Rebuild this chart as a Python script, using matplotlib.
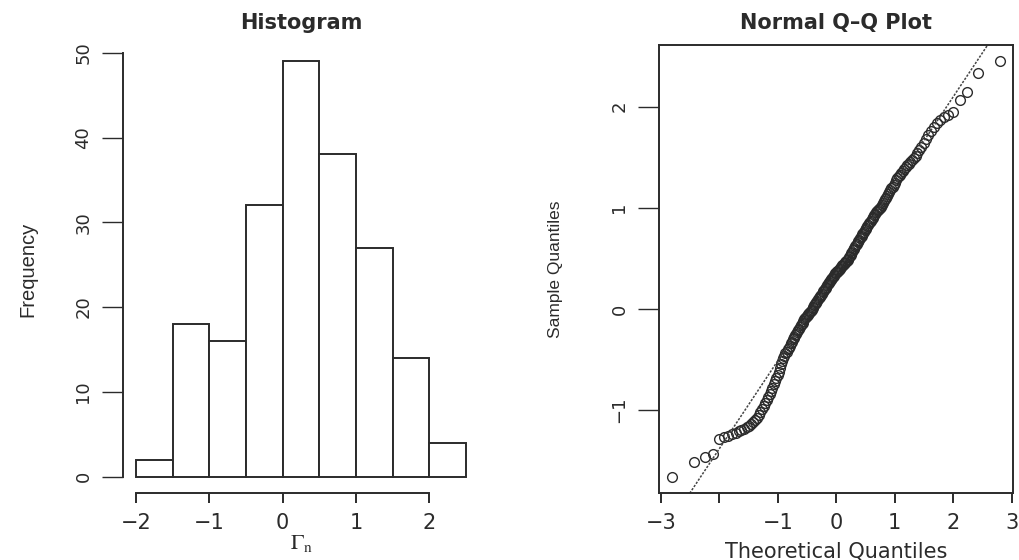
import numpy as np
import matplotlib
matplotlib.use("Agg")
import matplotlib.pyplot as plt
from statistics import NormalDist

# ---- data -------------------------------------------------------------
hist_breaks = [-2.0, -1.5, -1.0, -0.5, 0.0, 0.5, 1.0, 1.5, 2.0, 2.5]
hist_yticks = [0, 10, 20, 30, 40, 50]
hist_xticks = [-2, -1, 0, 1, 2]
qq_xticks = [-3, -2, -1, 0, 1, 2, 3]
qq_xticklabels = ["\u22123", "", "\u22121", "0", "1", "2", "3"]
qq_yticks = [-1, 0, 1, 2]

gamma_n = [
    -1.66, -1.51,
    -1.47, -1.44, -1.29, -1.27, -1.26, -1.24, -1.23, -1.21, -1.20, -1.19,
    -1.17, -1.16, -1.14, -1.12, -1.10, -1.08, -1.05, -1.02,
    -0.99, -0.96, -0.93, -0.90, -0.87, -0.84, -0.81, -0.78, -0.74, -0.71,
    -0.68, -0.65, -0.62, -0.58, -0.55, -0.52,
    -0.49, -0.47, -0.44, -0.43, -0.40, -0.39, -0.37, -0.34, -0.33, -0.30,
    -0.29, -0.28, -0.26, -0.245, -0.225, -0.21, -0.20, -0.18, -0.16, -0.15,
    -0.14, -0.12, -0.10, -0.09, -0.08, -0.07, -0.06, -0.05, -0.04, -0.03,
    -0.02, -0.01,
    0.01, 0.02, 0.035, 0.05, 0.06, 0.07, 0.08, 0.095, 0.11, 0.12,
    0.13, 0.14, 0.15, 0.165, 0.18, 0.19, 0.20, 0.21, 0.22, 0.235,
    0.25, 0.26, 0.27, 0.28, 0.29, 0.30, 0.31, 0.32, 0.33, 0.34,
    0.35, 0.355, 0.36, 0.37, 0.375, 0.38, 0.39, 0.40, 0.41, 0.42,
    0.43, 0.435, 0.44, 0.45, 0.46, 0.47, 0.475, 0.485, 0.495,
    0.51, 0.52, 0.535, 0.55, 0.565, 0.58, 0.59, 0.605, 0.62, 0.63,
    0.645, 0.66, 0.67, 0.685, 0.70, 0.71, 0.725, 0.74, 0.75, 0.765,
    0.78, 0.79, 0.805, 0.82, 0.83, 0.845, 0.86, 0.87, 0.885, 0.90,
    0.91, 0.925, 0.94, 0.956, 0.965, 0.975, 0.985, 0.995,
    1.01, 1.03, 1.05, 1.07, 1.09, 1.10, 1.12, 1.14, 1.16, 1.18,
    1.20, 1.21, 1.23, 1.25, 1.27, 1.29, 1.31, 1.32, 1.34, 1.36,
    1.38, 1.40, 1.42, 1.43, 1.45, 1.47, 1.49,
    1.51, 1.54, 1.57, 1.60, 1.64, 1.68, 1.72, 1.76, 1.80, 1.84,
    1.87, 1.90, 1.92, 1.95,
    2.07, 2.15, 2.33, 2.45,
]

# ---- style ------------------------------------------------------------
plt.rcParams["font.family"] = ["DejaVu Sans"]
plt.rcParams["mathtext.fontset"] = "stix"
INK = "#2b2b2b"
LW = 1.4

fig = plt.figure(figsize=(10.2, 5.6), dpi=100)
fig.patch.set_facecolor("white")

bottom = 1 - 493.3 / 560
height = (493.3 - 44.6) / 560
ax1 = fig.add_axes([123 / 1020, bottom, 356 / 1020, height])
ax2 = fig.add_axes([659 / 1020, bottom, 354.5 / 1020, height])


def r_pad(lo, hi):
    d = (hi - lo) * 0.04
    return lo - d, hi + d


# ---- histogram --------------------------------------------------------
counts, _, _ = ax1.hist(gamma_n, bins=hist_breaks, facecolor="white",
                        edgecolor=INK, linewidth=LW)
ax1.set_xlim(*r_pad(hist_breaks[0], hist_breaks[-1]))
ax1.set_ylim(*r_pad(0, max(counts)))
for s in ("top", "right"):
    ax1.spines[s].set_visible(False)
ax1.spines["left"].set_bounds(hist_yticks[0], hist_yticks[-1])
ax1.spines["bottom"].set_bounds(hist_xticks[0], hist_xticks[-1])
ax1.set_xticks(hist_xticks)
ax1.set_xticklabels([f"{v:d}".replace("-", "\u2212") for v in hist_xticks])
ax1.set_yticks(hist_yticks)
ax1.set_yticklabels([str(v) for v in hist_yticks], rotation=90, va="center")
ax1.set_title("Histogram", fontsize=15, fontweight="bold", color=INK, pad=11)
ax1.set_xlabel(r"$\Gamma_{\mathrm{n}}$", fontsize=16, color=INK, labelpad=0)
ax1.set_ylabel("Frequency", fontsize=14.5, color=INK, labelpad=27,
               family="Liberation Sans")

# ---- normal Q-Q plot ----------------------------------------------------
y = np.sort(np.asarray(gamma_n))
n = len(y)
nd = NormalDist()
theo = np.array([nd.inv_cdf((i - 0.5) / n) for i in range(1, n + 1)])
q_s = np.percentile(y, [25, 75])
q_t = np.array([nd.inv_cdf(0.25), nd.inv_cdf(0.75)])
slope = (q_s[1] - q_s[0]) / (q_t[1] - q_t[0])
intercept = q_s[0] - slope * q_t[0]

ax2.plot(theo, y, linestyle="none", marker="o", markersize=7,
         markerfacecolor="none", markeredgecolor=INK, markeredgewidth=1.0)
ax2.axline((0, intercept), slope=slope, color="#444444", linewidth=1.1,
           linestyle=(0, (1.5, 1.0)))
ax2.set_xlim(*r_pad(theo.min(), theo.max()))
ax2.set_ylim(*r_pad(y.min(), y.max()))
ax2.set_xticks(qq_xticks)
ax2.set_xticklabels(qq_xticklabels)
ax2.set_yticks(qq_yticks)
ax2.set_yticklabels([f"{v:d}".replace("-", "\u2212") for v in qq_yticks],
                    rotation=90, va="center")
ax2.set_title("Normal Q\u2013Q Plot", fontsize=15, fontweight="bold",
              color=INK, pad=11)
ax2.set_xlabel("Theoretical Quantiles", fontsize=15, color=INK, labelpad=6)
ax2.set_ylabel("Sample Quantiles", fontsize=12.5, color=INK, labelpad=34,
               family="Liberation Sans")

for ax in (ax1, ax2):
    for s in ax.spines.values():
        s.set_linewidth(LW)
        s.set_color(INK)
    ax.tick_params(axis="x", direction="out", length=7.5, width=LW,
                   colors=INK, labelsize=15, pad=7)
    ax.tick_params(axis="y", direction="out", length=15, width=1.0,
                   colors=INK, labelsize=13, pad=7)

fig.savefig("out.png", dpi=100, facecolor="white")
